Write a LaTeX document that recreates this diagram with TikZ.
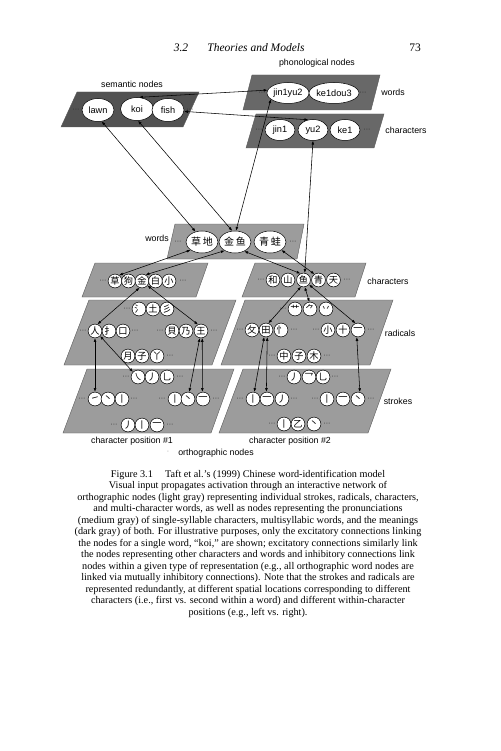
\documentclass[tikz,border=0pt]{standalone}
\usepackage{fontspec}
\setmainfont{Liberation Serif}
\setsansfont{Liberation Sans}
\newfontfamily\cjk{Noto Sans CJK SC}
\usetikzlibrary{shapes.geometric,arrows.meta}
\definecolor{semgray}{RGB}{82,82,82}
\definecolor{phongray}{RGB}{104,104,104}
\definecolor{orthgray}{RGB}{156,156,156}
\begin{document}
\begin{tikzpicture}[x=1pt,y=-1pt,
  lbl/.style={font=\sffamily\fontsize{8.8}{10}\selectfont, inner sep=0},
  ell/.style={ellipse, draw=black, line width=0.5pt, fill=white, inner sep=0, font=\sffamily\fontsize{9.2}{10}\selectfont},
  cw/.style={ellipse, draw=black, line width=0.5pt, fill=white, inner sep=0, minimum width=32pt, minimum height=22pt, font=\cjk\fontsize{10}{10}\selectfont},
  cc/.style={circle, draw=black, line width=0.5pt, fill=white, inner sep=0, minimum size=13.8pt, font=\cjk\fontsize{9.2}{9.2}\selectfont},
  dts/.style={font=\sffamily\fontsize{7}{7}\selectfont, inner sep=0, text=black!85},
  lnk/.style={line width=0.55pt, {Latex[length=3.8pt,width=2.8pt]}-{Latex[length=3.8pt,width=2.8pt]}},
  plane/.style={draw=black!65, line width=0.4pt}
]
\useasboundingbox (0,0) rectangle (500,751);
\fill[white] (0,0) rectangle (500,751);

% header
\node[font=\itshape\fontsize{11.5}{12}\selectfont, inner sep=0] (hd1) at (181,48) {3.2};
\node[font=\itshape\fontsize{11.5}{12}\selectfont, inner sep=0] (hd2) at (256,48) {Theories and Models};
\node[font=\fontsize{11.5}{12}\selectfont, inner sep=0] (pg) at (415,48) {73};

% planes
\path[plane, fill=semgray] (77,92) -- (199,92) -- (183,127) -- (61,127) -- cycle;
\path[plane, fill=phongray] (252,75) -- (380,75) -- (371,110) -- (243,110) -- cycle;
\path[plane, fill=phongray] (256,114) -- (384,114) -- (374,148) -- (246,148) -- cycle;
\path[plane, fill=orthgray] (175,224) -- (304,224) -- (297,259) -- (167,259) -- cycle;
\path[plane, fill=orthgray] (95,263) -- (208,263) -- (196,297) -- (82,297) -- cycle;
\path[plane, fill=orthgray] (255,263) -- (366,263) -- (355,297) -- (242,297) -- cycle;
\path[plane, fill=orthgray] (89,300) -- (236,300) -- (212,365) -- (64,365) -- cycle;
\path[plane, fill=orthgray] (245,300) -- (393,300) -- (370,365) -- (221,365) -- cycle;
\path[plane, fill=orthgray] (87,369) -- (234,369) -- (211,433) -- (63,433) -- cycle;
\path[plane, fill=orthgray] (243,369) -- (391,369) -- (368,433) -- (219,433) -- cycle;

% labels
\node[lbl] (lsem) at (132,84) {semantic nodes};
\node[lbl] (lpho) at (317,63) {phonological nodes};
\node[lbl] (lpw) at (393,92) {words};
\node[lbl] (lpc) at (406,130) {characters};
\node[lbl] (low) at (157,238) {words};
\node[lbl] (loc) at (388,281) {characters};
\node[lbl] (lrad) at (400,333) {radicals};
\node[lbl] (lstr) at (398,401) {strokes};
\node[lbl] (lcp1) at (132,441) {character position \#1};
\node[lbl] (lcp2) at (290,441) {character position \#2};
\node[lbl] (lorth) at (216,453) {orthographic nodes};
\node[dts, text=black!50] (ldot) at (168,452) {·};

% semantic nodes
\node[ell, minimum width=32pt, minimum height=23pt] (lawn) at (98,110) {lawn};
\node[ell, minimum width=33pt, minimum height=23pt] (koi) at (137,109) {koi};
\node[ell, minimum width=32pt, minimum height=23pt] (fish) at (168,110) {fish};
\node[dts] (ds1) at (76,110) {···};
\node[dts] (ds2) at (190,110) {···};

% phonological words
\node[ell, minimum width=42pt, minimum height=21pt] (jy) at (288,93) {jin1yu2};
\node[ell, minimum width=42pt, minimum height=21pt] (kd) at (334,93) {ke1dou3};
\node[dts] (dp1) at (262,93) {···};
\node[dts] (dp2) at (363,93) {···};

% phonological characters
\node[ell, minimum width=30pt, minimum height=21pt] (jin1) at (280,130) {jin1};
\node[ell, minimum width=30pt, minimum height=21pt] (yu2) at (313,130) {yu2};
\node[ell, minimum width=30pt, minimum height=21pt] (ke1) at (345,130) {ke1};
\node[dts] (dp3) at (259,130) {···};
\node[dts] (dp4) at (367,130) {···};

% orthographic words
\node[cw] (w1) at (202,242) {草\,地};
\node[cw] (w2) at (235,242) {金\,鱼};
\node[cw] (w3) at (270,242) {青\,蛙};
\node[dts] (dw1) at (178,242) {···};
\node[dts] (dw2) at (293,242) {···};

% characters left
\node[cc] (cL1) at (115,281) {草};
\node[cc] (cL2) at (128.5,281) {狗};
\node[cc] (cL3) at (142,281) {金};
\node[cc] (cL4) at (155.5,281) {白};
\node[cc] (cL5) at (169,281) {小};
\node[dts] (dcL1) at (103,281) {···};
\node[dts] (dcL2) at (183,281) {···};
% characters right
\node[cc] (cR1) at (273,280) {和};
\node[cc] (cR2) at (288,280) {山};
\node[cc] (cR3) at (303.5,280) {鱼};
\node[cc] (cR4) at (318.5,280) {青};
\node[cc] (cR5) at (333.5,280) {天};
\node[dts] (dcR1) at (261,280) {···};
\node[dts] (dcR2) at (347,280) {···};

% radicals left
\node[cc] (rL1) at (139,309) {氵};
\node[cc] (rL2) at (153,309) {土};
\node[cc] (rL3) at (167,309) {彡};
\node[dts] (drL1) at (127,309) {···};
\node[cc] (rL4) at (95,331) {人};
\node[cc] (rL5) at (109,331) {扌};
\node[cc] (rL6) at (123,331) {口};
\node[dts] (drL2) at (83,331) {···};
\node[dts] (drL3) at (135,331) {···};
\node[cc] (rL7) at (172,331) {貝};
\node[cc] (rL8) at (186,331) {乃};
\node[cc] (rL9) at (201,331) {王};
\node[dts] (drL4) at (160,331) {···};
\node[dts] (drL5) at (214,331) {···};
\node[cc] (rL10) at (128,356) {月};
\node[cc] (rL11) at (142,356) {子};
\node[cc] (rL12) at (157,356) {丫};
\node[dts] (drL6) at (170,356) {···};

% radicals right
\node[cc] (rR1) at (295,309) {艹};
\node[cc] (rR2) at (310,309) {⺈};
\node[cc] (rR3) at (326,309) {丷};
\node[dts] (drR1) at (283,309) {···};
\node[cc] (rR4) at (252,330) {攵};
\node[cc] (rR5) at (266,330) {田};
\node[cc] (rR6) at (281,330) {忄};
\node[dts] (drR2) at (240,330) {···};
\node[dts] (drR3) at (294,330) {···};
\node[cc] (rR7) at (328,330) {小};
\node[cc] (rR8) at (343,330) {十};
\node[cc] (rR9) at (358,330) {一};
\node[dts] (drR4) at (316,330) {···};
\node[dts] (drR5) at (371,330) {···};
\node[cc] (rR10) at (284,356) {中};
\node[cc] (rR11) at (299,356) {子};
\node[cc] (rR12) at (314,356) {木};
\node[dts] (drR6) at (272,356) {···};
\node[dts] (drR7) at (327,356) {···};

% strokes left
\node[cc] (sL1) at (138,377) {㇏};
\node[cc] (sL2) at (152,377) {丿};
\node[cc] (sL3) at (167,377) {乚};
\node[dts] (dsL1) at (126,377) {···};
\node[dts] (dsL2) at (180,377) {···};
\node[cc] (sL4) at (95,399) {㇀};
\node[cc] (sL5) at (108,399) {丶};
\node[cc] (sL6) at (122,399) {丨};
\node[dts] (dsL3) at (82,399) {···};
\node[dts] (dsL4) at (134,399) {···};
\node[cc] (sL7) at (175,399) {丨};
\node[cc] (sL8) at (188,399) {丶};
\node[cc] (sL9) at (203,399) {一};
\node[dts] (dsL5) at (162,399) {···};
\node[dts] (dsL6) at (216,399) {···};
\node[cc] (sL10) at (128,425) {丿};
\node[cc] (sL11) at (142,425) {丨};
\node[cc] (sL12) at (157,425) {一};
\node[dts] (dsL7) at (114,425) {···};
\node[dts] (dsL8) at (170,425) {···};

% strokes right
\node[cc] (sR1) at (294,377) {丿};
\node[cc] (sR2) at (309,377) {乛};
\node[cc] (sR3) at (323,377) {乚};
\node[dts] (dsR1) at (282,377) {···};
\node[dts] (dsR2) at (335,377) {···};
\node[cc] (sR4) at (253,399) {丨};
\node[cc] (sR5) at (267,399) {一};
\node[cc] (sR6) at (282,399) {丿};
\node[dts] (dsR3) at (240,399) {···};
\node[dts] (dsR4) at (294,399) {···};
\node[cc] (sR7) at (327,399) {丨};
\node[cc] (sR8) at (343,399) {一};
\node[cc] (sR9) at (358,399) {丶};
\node[dts] (dsR5) at (315,399) {···};
\node[dts] (dsR6) at (371,399) {···};
\node[cc] (sR10) at (284,424) {丨};
\node[cc] (sR11) at (298,424) {乙};
\node[cc] (sR12) at (314,424) {丶};
\node[dts] (dsR7) at (272,424) {···};
\node[dts] (dsR8) at (327,424) {···};

% connectors
\draw[lnk] (lawn.-72) -- (w1.122);
\draw[lnk] (koi.-85) -- (w2.104);
\draw[lnk] (jy.-160) -- (w2.85);
\draw[lnk] (yu2.-90) -- (cR3.80);
\draw[lnk] (koi.80) -- (jy.172);
\draw[lnk] (fish.-5) -- (yu2.115);
\draw[lnk] (w1.-145) -- (cL1.55);
\draw[lnk] (w2.-140) -- (cL3.60);
\draw[lnk] (w2.-45) -- (cR3.115);
\draw[lnk] (w3.-35) -- (cR4.125);
\draw[lnk] (cL3.-110) -- (rL4.70);
\draw[lnk] (cL3.-40) -- (rL9.115);
\draw[lnk] (cR3.-110) -- (rR5.70);
\draw[lnk] (cR3.-80) -- (rR2.95);
\draw[lnk] (cR3.-40) -- (rR9.110);
\draw[lnk] (rL4.-90) -- (sL4.90);
\draw[lnk] (rL4.-45) -- (sL1.135);
\draw[lnk] (rL9.-100) -- (sL8.80);
\draw[lnk] (rL9.-80) -- (sL9.95);
\draw[lnk] (rR5.-105) -- (sR4.80);
\draw[lnk] (rR5.-80) -- (sR5.95);
\draw[lnk] (rR9.-100) -- (sR9.75);

% caption
\node[anchor=north, inner sep=0, align=center, font=\fontsize{10.2}{11.5}\selectfont] (cap) at (248,470) {%
Figure 3.1\hspace{1.2em}Taft et al.'s (1999) Chinese word-identification model\\
Visual input propagates activation through an interactive network of\\
orthographic nodes (light gray) representing individual strokes, radicals, characters,\\
and multi-character words, as well as nodes representing the pronunciations\\
(medium gray) of single-syllable characters, multisyllabic words, and the meanings\\
(dark gray) of both. For illustrative purposes, only the excitatory connections linking\\
the nodes for a single word, “koi,” are shown; excitatory connections similarly link\\
the nodes representing other characters and words and inhibitory connections link\\
nodes within a given type of representation (e.g., all orthographic word nodes are\\
linked via mutually inhibitory connections). Note that the strokes and radicals are\\
represented redundantly, at different spatial locations corresponding to different\\
characters (i.e., first vs. second within a word) and different within-character\\
positions (e.g., left vs. right).};
\end{tikzpicture}
\end{document}
